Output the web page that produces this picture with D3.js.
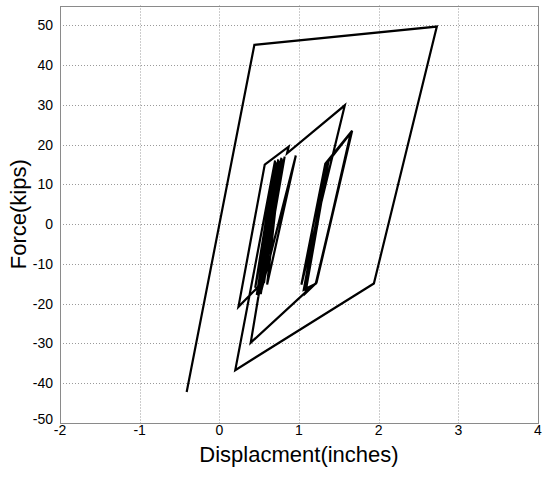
<!DOCTYPE html>
<html lang="en">
<head>
    <meta charset="UTF-8">
    <title>Force vs Displacement</title>
    <script src="https://d3js.org/d3.v7.min.js"></script>
    <style>
        body {
            margin: 0;
            background: #fff;
        }

        .tick-label {
            font: 14px "Liberation Sans", Arial, sans-serif;
            fill: #000;
        }

        .axis-title {
            font: 22px "Liberation Sans", Arial, sans-serif;
            fill: #000;
        }

        .grid line {
            stroke: #9a9a9a;
            stroke-width: 1;
            stroke-dasharray: 1, 2;
        }
    </style>
</head>
<body>
    <svg id="chart"></svg>

    <script>
        // tick values
        const xTicks = [-2, -1, 0, 1, 2, 3, 4];
        const yTicks = [-50, -40, -30, -20, -10, 0, 10, 20, 30, 40, 50];

        // hysteresis path (inches, kips)
        const displacement = [
            -0.41, 0.44, 2.73, 1.94, 0.20, 0.70, 0.50, 0.24, 0.57, 0.87, 0.85, 1.575,
            1.03, 1.33, 1.667, 1.22, 1.08, 1.37, 1.66, 1.21, 1.06, 1.35, 1.65, 1.22,
            1.067, 0.394, 0.78, 0.47, 0.74, 0.50, 0.82, 0.53, 0.96, 0.60, 0.77, 0.49,
            0.72, 0.56, 0.79, 0.52, 0.75, 0.45, 0.70
        ];
        const force = [
            -42.2, 45.1, 49.7, -14.9, -36.7, 16.0, -15.5, -20.8, 15.0, 19.5, 17.8, 29.9,
            -15.2, 15.2, 23.5, -14.7, -17.4, 15.8, 23.2, -15.0, -16.5, 15.4, 23.0, -14.7,
            -17.4, -29.8, 16.7, -17.8, 16.3, -17.2, 17.0, -16.5, 17.25, -15.2, 16.0, -18.2,
            15.6, -14.8, 16.4, -17.6, 15.9, -16.0, 15.2
        ];

        const width = 543;
        const height = 477;
        const margin = {left: 60, right: 5, top: 5.5, bottom: 54};

        const svg = d3.select("#chart")
            .attr("width", width)
            .attr("height", height);

        const x = d3.scaleLinear()
            .domain([-2, 4])
            .range([margin.left, width - margin.right]);

        const y = d3.scaleLinear()
            .domain([-50, 55])
            .range([height - margin.bottom, margin.top]);

        // dotted grid
        const grid = svg.append("g").attr("class", "grid");
        grid.selectAll(".gx")
            .data(xTicks.slice(1, -1))
            .enter().append("line")
            .attr("x1", d => Math.round(x(d)) + 0.5)
            .attr("x2", d => Math.round(x(d)) + 0.5)
            .attr("y1", y(55))
            .attr("y2", y(-50));
        grid.selectAll(".gy")
            .data(yTicks.slice(1))
            .enter().append("line")
            .attr("x1", x(-2))
            .attr("x2", x(4))
            .attr("y1", d => Math.round(y(d)) + 0.5)
            .attr("y2", d => Math.round(y(d)) + 0.5);

        // frame
        svg.append("rect")
            .attr("x", Math.round(x(-2)) + 0.5)
            .attr("y", Math.round(y(55)) + 0.5)
            .attr("width", Math.round(x(4)) - Math.round(x(-2)))
            .attr("height", Math.round(y(-50)) - Math.round(y(55)))
            .attr("fill", "none")
            .attr("stroke", "#8a8a8a")
            .attr("stroke-width", 1);

        // tick labels
        svg.selectAll(".xl")
            .data(xTicks)
            .enter().append("text")
            .attr("class", "tick-label")
            .attr("x", d => x(d))
            .attr("y", y(-50) + 12)
            .attr("text-anchor", "middle")
            .text(d => d);

        svg.selectAll(".yl")
            .data(yTicks)
            .enter().append("text")
            .attr("class", "tick-label")
            .attr("x", x(-2) - 7)
            .attr("y", d => y(d) + (d === -50 ? 1 : 5))
            .attr("text-anchor", "end")
            .text(d => d);

        // axis titles
        svg.append("text")
            .attr("class", "axis-title")
            .attr("x", (x(-2) + x(4)) / 2)
            .attr("y", 462)
            .attr("text-anchor", "middle")
            .text("Displacment(inches)");

        svg.append("text")
            .attr("class", "axis-title")
            .attr("transform", `translate(26,${(y(55) + y(-50)) / 2}) rotate(-90)`)
            .attr("text-anchor", "middle")
            .text("Force(kips)");

        // the curve
        const line = d3.line()
            .x(i => x(displacement[i]))
            .y(i => y(force[i]));

        svg.append("path")
            .attr("d", line(d3.range(displacement.length)))
            .attr("fill", "none")
            .attr("stroke", "#000")
            .attr("stroke-width", 2.2)
            .attr("stroke-linejoin", "miter");
    </script>
</body>
</html>
